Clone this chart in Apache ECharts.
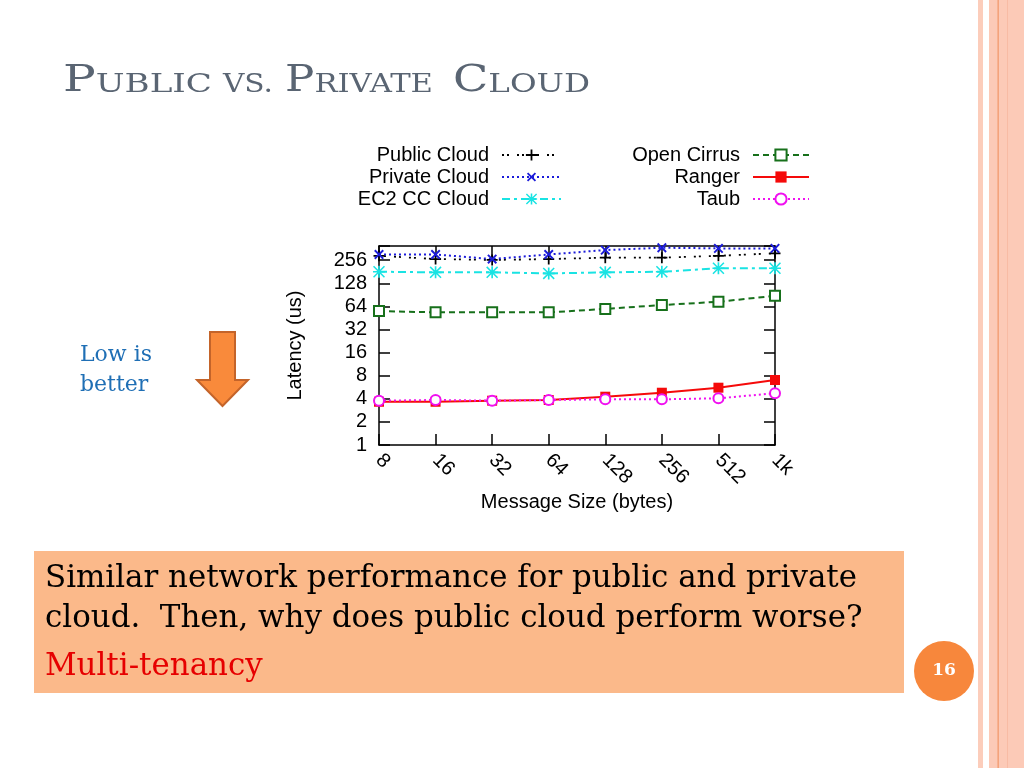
<!DOCTYPE html>
<html>
<head>
<meta charset="utf-8">
<script src="https://cdn.jsdelivr.net/npm/echarts@6.0.0/dist/echarts.min.js"></script>
<style>
  html, body { margin: 0; padding: 0; background: #fff; }
  #chart { width: 1024px; height: 768px; }
</style>
</head>
<body>
<div id="chart"></div>
<script>
// message sizes on the x axis
const categories = ['8', '16', '32', '64', '128', '256', '512', '1k'];

// latency in microseconds
const publicCloud  = [292, 265, 258, 265, 276, 276, 292, 315];
const privateCloud = [304, 304, 265, 304, 347, 372, 365, 365];
const ec2Cloud     = [181, 178, 178, 172, 178, 181, 201, 201];
const openCirrus   = [55.7, 53.5, 53.5, 53.5, 59.3, 66.7, 73.5, 88];
const ranger       = [3.66, 3.66, 3.78, 3.86, 4.26, 4.80, 5.58, 7.03];
const taub         = [3.78, 3.86, 3.78, 3.86, 3.94, 3.94, 4.06, 4.72];

const seriesNames = ['Public Cloud', 'Private Cloud', 'EC2 CC Cloud', 'Open Cirrus', 'Ranger', 'Taub'];

const yMin = 1;
const yMax = 392;

const AXIS_FONT = '"Liberation Sans", Arial, sans-serif';
const SERIF = '"DejaVu Serif", serif';

// marker shapes (gnuplot style)
const PLUS = 'path://M4.2,0H5.8V4.2H10V5.8H5.8V10H4.2V5.8H0V4.2H4.2Z';
const STAR = 'path://M4.3,0H5.7V4.3H10V5.7H5.7V10H4.3V5.7H0V4.3H4.3Z' +
             'M0,0.9L0.9,0L10,9.1L9.1,10Z M9.1,0L10,0.9L0.9,10L0,9.1Z';

// measuring helper for the slide text
const ctx = document.createElement('canvas').getContext('2d');
function measure(text, font) { ctx.font = font; return ctx.measureText(text).width; }

function line(name, data, color, dash, width, symbol, size, extra) {
  return Object.assign({
    name: name,
    type: 'line',
    data: data,
    symbol: symbol,
    symbolSize: size,
    showSymbol: true,
    lineStyle: { color: color, width: width, type: dash },
    itemStyle: { color: color, borderWidth: 2 },
    emphasis: { disabled: true }
  }, extra || {});
}

// small caps title, one word at a time
const titleWords = [
  { big: 'P', small: 'UBLIC', x: 63, w: 149 },
  { big: '', small: 'VS.', x: 223, w: 50 },
  { big: 'P', small: 'RIVATE', x: 285, w: 148 },
  { big: 'C', small: 'LOUD', x: 453, w: 137 }
];
const bigSize = 37, smallSize = 26, titleBase = 94, titleColor = '#5a6573';
const graphics = [];

// right edge stripes
graphics.push({ type: 'rect', shape: { x: 978, y: 0, width: 5, height: 768 }, style: { fill: '#fccdbb' } });
graphics.push({ type: 'rect', shape: { x: 989, y: 0, width: 35, height: 768 }, style: { fill: '#fccab7' } });
graphics.push({ type: 'rect', shape: { x: 997.5, y: 0, width: 1.3, height: 768 }, style: { fill: '#f29a6e' } });
graphics.push({ type: 'rect', shape: { x: 1007, y: 0, width: 1, height: 768 }, style: { fill: '#f8bba4' } });

titleWords.forEach(function (wd) {
  const fb = bigSize + 'px ' + SERIF, fs = smallSize + 'px ' + SERIF;
  const wb = wd.big ? measure(wd.big, fb) : 0;
  const ws = measure(wd.small, fs);
  const sx = wd.w / (wb + ws);
  if (wd.big) {
    graphics.push({ type: 'text', x: wd.x, y: titleBase - 0.35 * bigSize, scaleX: sx,
      style: { text: wd.big, font: fb, fill: titleColor, verticalAlign: 'middle', align: 'left' } });
  }
  graphics.push({ type: 'text', x: wd.x + wb * sx, y: titleBase - 0.35 * smallSize, scaleX: sx,
    style: { text: wd.small, font: fs, fill: titleColor, verticalAlign: 'middle', align: 'left' } });
});

// "Low is better" note with arrow
['Low is', 'better'].forEach(function (t, i) {
  graphics.push({ type: 'text', x: 80, y: 363 + i * 30 - 0.35 * 22,
    style: { text: t, font: '22px ' + SERIF, fill: '#1f6fb5', verticalAlign: 'middle' } });
});
graphics.push({ type: 'polygon',
  shape: { points: [[210, 332], [235, 332], [235, 380], [248, 380], [222.5, 406], [197, 380], [210, 380]] },
  style: { fill: '#f98a3b', stroke: '#c4642a', lineWidth: 2 } });

// takeaway box
graphics.push({ type: 'rect', shape: { x: 34, y: 551, width: 870, height: 142 }, style: { fill: '#fbb98a' } });
const boxLines = [
  { t: 'Similar network performance for public and private', c: '#000', base: 590 },
  { t: 'cloud.  Then, why does public cloud perform worse?', c: '#000', base: 630 },
  { t: 'Multi-tenancy', c: '#e60000', base: 678 }
];
const boxFont = '31px ' + SERIF;
const boxScale = 812 / measure(boxLines[0].t, boxFont);
boxLines.forEach(function (l) {
  graphics.push({ type: 'text', x: 45, y: l.base - 0.35 * 31, scaleX: boxScale,
    style: { text: l.t, font: boxFont, fill: l.c, verticalAlign: 'middle' } });
});

// page number
graphics.push({ type: 'circle', shape: { cx: 944, cy: 671, r: 30 }, style: { fill: '#f7873c' } });
graphics.push({ type: 'text', x: 944, y: 671,
  style: { text: '16', font: 'bold 17px ' + SERIF, fill: '#fff', align: 'center', verticalAlign: 'middle' } });

function isPow2(v) {
  const l = Math.log2(v);
  return Math.abs(l - Math.round(l)) < 1e-6;
}

const axisLine = { show: true, lineStyle: { color: '#000', width: 1.5 } };
const tick = { show: true, inside: true, length: 11, lineStyle: { color: '#000', width: 1.5 } };

const legendCommon = {
  orient: 'vertical',
  align: 'right',
  top: 145,
  padding: 0,
  itemGap: 2,
  itemHeight: 14,
  selectedMode: false,
  textStyle: { fontFamily: AXIS_FONT, fontSize: 20, color: '#000', padding: [0, 8, 0, 0] }
};

const chart = echarts.init(document.getElementById('chart'), null, { renderer: 'canvas' });
chart.setOption({
  animation: false,
  backgroundColor: '#fff',
  legend: [
    Object.assign({}, legendCommon, { data: seriesNames.slice(0, 3), right: 462, itemWidth: 59 }),
    Object.assign({}, legendCommon, { data: seriesNames.slice(3), right: 214, itemWidth: 56 })
  ],
  grid: { left: 379, right: 249, top: 246, bottom: 323, outerBoundsMode: 'none', containLabel: false },
  xAxis: [
    {
      type: 'category',
      data: categories,
      boundaryGap: false,
      position: 'bottom',
      axisLine: axisLine,
      axisTick: tick,
      splitLine: { show: false },
      axisLabel: { rotate: -45, margin: 12, fontFamily: AXIS_FONT, fontSize: 20, color: '#000' },
      name: 'Message Size (bytes)',
      nameLocation: 'middle',
      nameGap: 47,
      nameTextStyle: { fontFamily: AXIS_FONT, fontSize: 20, color: '#000' }
    },
    {
      type: 'category',
      data: categories,
      boundaryGap: false,
      position: 'top',
      axisLine: axisLine,
      axisTick: tick,
      axisLabel: { show: false },
      splitLine: { show: false }
    }
  ],
  yAxis: [
    {
      type: 'log',
      logBase: 2,
      min: yMin,
      max: yMax,
      splitNumber: 8,
      position: 'left',
      axisLine: axisLine,
      axisTick: tick,
      splitLine: { show: false },
      axisLabel: {
        margin: 12, fontFamily: AXIS_FONT, fontSize: 20, color: '#000',
        formatter: function (v) { return isPow2(v) ? String(Math.round(v)) : ''; }
      },
      name: 'Latency (us)',
      nameLocation: 'middle',
      nameGap: 74,
      nameTextStyle: { fontFamily: AXIS_FONT, fontSize: 20, color: '#000' }
    },
    {
      type: 'log',
      logBase: 2,
      min: yMin,
      max: yMax,
      splitNumber: 8,
      position: 'right',
      axisLine: axisLine,
      axisTick: tick,
      axisLabel: { show: false },
      splitLine: { show: false }
    }
  ],
  series: [
    line(seriesNames[0], publicCloud, '#000000', [2, 3, 2, 8], 1.8, PLUS, 11),
    line(seriesNames[1], privateCloud, '#1c1cd9', [2, 3], 2, PLUS, 12, { symbolRotate: 45 }),
    line(seriesNames[2], ec2Cloud, '#19e3e3', [8, 4, 3, 4], 2, STAR, 12),
    line(seriesNames[3], openCirrus, '#17701b', [6, 4], 2, 'emptyRect', 10),
    line(seriesNames[4], ranger, '#f50a0a', 'solid', 2, 'rect', 10),
    line(seriesNames[5], taub, '#f010f0', [2, 3], 2, 'emptyCircle', 10)
  ],
  graphic: { elements: graphics }
});
</script>
</body>
</html>
